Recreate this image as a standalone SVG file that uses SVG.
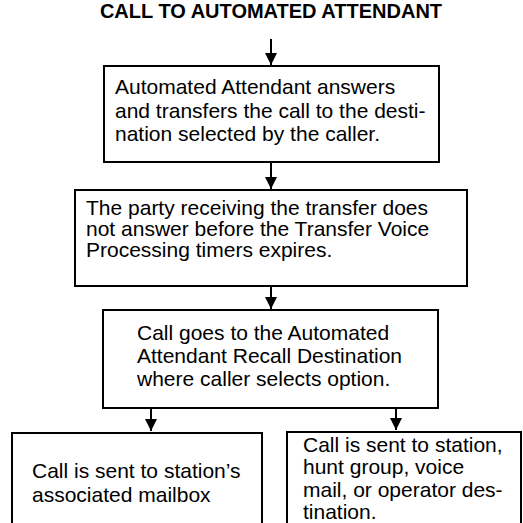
<svg xmlns="http://www.w3.org/2000/svg" width="523" height="523" viewBox="0 0 523 523">
<style>
.box{fill:#fff;stroke:#000;stroke-width:2}
.t{font-family:"Liberation Sans",Arial,Helvetica,sans-serif;font-size:21px;fill:#000}
.title{font-family:"Liberation Sans",Arial,Helvetica,sans-serif;font-size:20px;font-weight:bold;fill:#000}
.c{fill:none;stroke:#000;stroke-width:2}
</style>
<defs>
<marker id="ah" viewBox="0 0 12 12" refX="12" refY="6" markerWidth="12" markerHeight="12" markerUnits="userSpaceOnUse" orient="auto">
<path d="M0,0 L12,6 L0,12 z" fill="#000"/>
</marker>
</defs>
<rect width="523" height="523" fill="#fff"/>
<text class="title" x="271" y="18" text-anchor="middle">CALL TO AUTOMATED ATTENDANT</text>
<g id="connectors">
<path class="c" d="M271,39 V65" marker-end="url(#ah)"/>
<path class="c" d="M271,163 V189" marker-end="url(#ah)"/>
<path class="c" d="M271,287 V309" marker-end="url(#ah)"/>
<path class="c" d="M151,409 V431" marker-end="url(#ah)"/>
<path class="c" d="M396,409 V430" marker-end="url(#ah)"/>
</g>
<g id="n1">
<rect class="box" x="104" y="66" width="335" height="96"/>
<text class="t" x="115" y="94">Automated Attendant answers</text>
<text class="t" x="115" y="117.5">and transfers the call to the desti-</text>
<text class="t" x="115" y="141">nation selected by the caller.</text>
</g>
<g id="n2">
<rect class="box" x="75" y="190" width="392" height="96"/>
<text class="t" x="86" y="215">The party receiving the transfer does</text>
<text class="t" x="86" y="236">not answer before the Transfer Voice</text>
<text class="t" x="86" y="257">Processing timers expires.</text>
</g>
<g id="n3">
<rect class="box" x="103" y="310" width="335" height="98"/>
<text class="t" x="137" y="340">Call goes to the Automated</text>
<text class="t" x="137" y="363">Attendant Recall Destination</text>
<text class="t" x="137" y="386">where caller selects option.</text>
</g>
<g id="n4">
<path class="box" d="M12,524 V433 H262 V524"/>
<text class="t" x="32" y="478">Call is sent to station’s</text>
<text class="t" x="32" y="501.5">associated mailbox</text>
</g>
<g id="n5">
<path class="box" d="M287,524 V432 H521 V524"/>
<text class="t" x="303" y="451.5">Call is sent to station,</text>
<text class="t" x="303" y="474">hunt group, voice</text>
<text class="t" x="303" y="496.5">mail, or operator des-</text>
<text class="t" x="303" y="519">tination.</text>
</g>
</svg>
